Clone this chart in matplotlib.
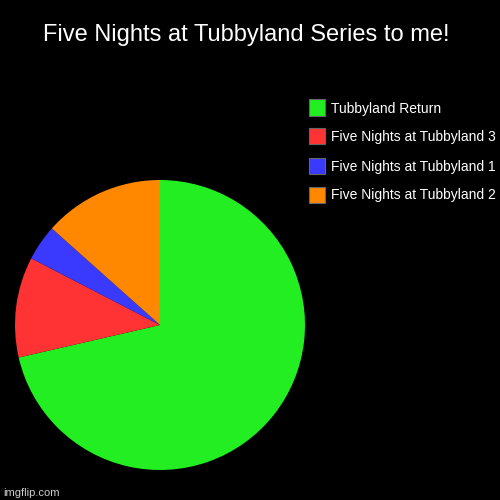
import matplotlib
matplotlib.use("Agg")
import matplotlib.pyplot as plt
from matplotlib.patches import Rectangle

title = "Five Nights at Tubbyland Series to me!"
labels = ["Tubbyland Return", "Five Nights at Tubbyland 3",
          "Five Nights at Tubbyland 1", "Five Nights at Tubbyland 2"]
values = [71.4, 11.2, 4.0, 13.4]
colors = ["#22ee22", "#ff3333", "#3a3aff", "#ff8800"]

plt.rcParams['font.family'] = ['Liberation Sans', 'DejaVu Sans']

fig = plt.figure(figsize=(5, 5), dpi=100, facecolor="black")

# pie: centre (160, 325) px, radius 145 px
ax = fig.add_axes([0.03, 0.06, 0.58, 0.58])
ax.set_facecolor("black")
ax.pie(values, colors=colors, startangle=90, counterclock=False,
       radius=1, wedgeprops={'linewidth': 0})
ax.set_xlim(-1, 1)
ax.set_ylim(-1, 1)
ax.set_aspect('equal')
ax.axis('off')

fig.text(0.493, 0.931, title, color="white", fontsize=17,
         ha="center", va="center")

# legend drawn by hand
for i, (lab, col) in enumerate(zip(labels, colors)):
    yc = 107.5 + 29 * i
    fig.add_artist(Rectangle((309 / 500, 1 - (yc + 8) / 500), 16 / 500, 16 / 500,
                             transform=fig.transFigure, facecolor=col,
                             edgecolor="#666666", linewidth=0.8))
    fig.text(331 / 500, 1 - (yc + 1) / 500, lab, color="white", fontsize=10,
             ha="left", va="center")

fig.text(3 / 500, 1 - 493 / 500, "imgflip.com", color="#cccccc", fontsize=8,
         ha="left", va="center")

fig.savefig("out.png", dpi=100, facecolor="black")
